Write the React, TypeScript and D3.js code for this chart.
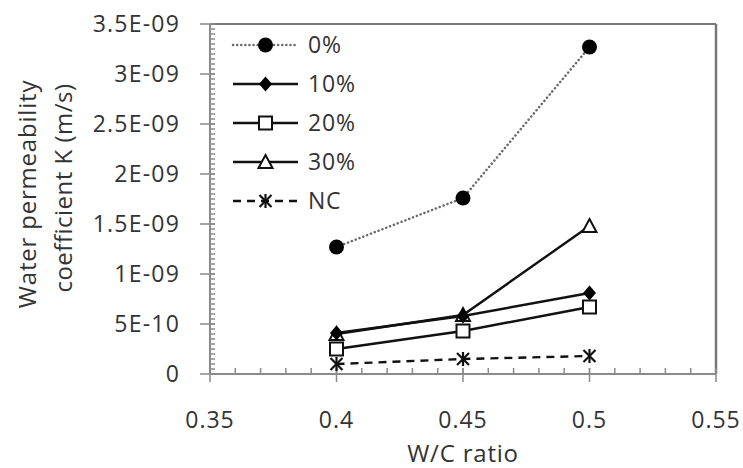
import React from "react";
import * as d3 from "d3";

const wcRatio = [0.4, 0.45, 0.5];
const k0 = [1.27e-9, 1.76e-9, 3.27e-9];
const k10 = [0.41e-9, 0.58e-9, 0.81e-9];
const k20 = [0.25e-9, 0.43e-9, 0.67e-9];
const k30 = [0.4e-9, 0.59e-9, 1.48e-9];
const kNC = [0.1e-9, 0.15e-9, 0.18e-9];

const seriesNames = ["0%", "10%", "20%", "30%", "NC"];
const xTicks = [0.35, 0.4, 0.45, 0.5, 0.55];
const xTickLabels = ["0.35", "0.4", "0.45", "0.5", "0.55"];
const yTicks = [0, 0.5e-9, 1e-9, 1.5e-9, 2e-9, 2.5e-9, 3e-9, 3.5e-9];
const yTickLabels = ["0", "5E-10", "1E-09", "1.5E-09", "2E-09", "2.5E-09", "3E-09", "3.5E-09"];

const W = 743, H = 468;
const L = 210, R = 716, T = 24, B = 374;
const FONT = "'Open Sans', sans-serif";
const TXT = "#333";
const AX = "#8a8a8a";

const x = d3.scaleLinear().domain([0.35, 0.55]).range([L, R]);
const y = d3.scaleLinear().domain([0, 3.5e-9]).range([B, T]);

type Kind = "circle" | "diamond" | "square" | "triangle" | "star";
const styles: { kind: Kind; dash: string; color: string; width: number; cap: string }[] = [
  { kind: "circle", dash: "0.1 4", color: "#6a6a6a", width: 2.5, cap: "round" },
  { kind: "diamond", dash: "", color: "#111", width: 2.4, cap: "butt" },
  { kind: "square", dash: "", color: "#111", width: 2.4, cap: "butt" },
  { kind: "triangle", dash: "", color: "#111", width: 2.4, cap: "butt" },
  { kind: "star", dash: "8 6", color: "#111", width: 2.4, cap: "butt" },
];
const drawOrder = [4, 3, 2, 1, 0];

function Marker({ kind, cx, cy }: { kind: Kind; cx: number; cy: number }) {
  if (kind === "circle") return <circle cx={cx} cy={cy} r={7.5} fill="#000" />;
  if (kind === "diamond")
    return <path d={`M${cx},${cy - 7.5}L${cx + 6.5},${cy}L${cx},${cy + 7.5}L${cx - 6.5},${cy}Z`} fill="#000" />;
  if (kind === "square")
    return <rect x={cx - 6.5} y={cy - 6.5} width={13} height={13} fill="#fff" stroke="#111" strokeWidth={2} />;
  if (kind === "triangle")
    return <path d={`M${cx},${cy - 7}L${cx + 7},${cy + 6}L${cx - 7},${cy + 6}Z`} fill="#fff" stroke="#111" strokeWidth={2} />;
  return (
    <g stroke="#111" strokeWidth={2.2}>
      <line x1={cx - 6} y1={cy - 6} x2={cx + 6} y2={cy + 6} />
      <line x1={cx - 6} y1={cy + 6} x2={cx + 6} y2={cy - 6} />
      <line x1={cx} y1={cy - 7} x2={cx} y2={cy + 7} />
    </g>
  );
}

export default function App() {
  const data = [k0, k10, k20, k30, kNC];
  const line = d3
    .line<number>()
    .x((_, i) => x(wcRatio[i]))
    .y((d) => y(d));
  const yMinor = d3.range(0, 3.5e-9 + 1e-13, 0.05e-9);
  const xMinor = d3.range(0.35, 0.5501, 0.01);

  const legX0 = 233, legX1 = 298, legY0 = 45, legDy = 39;

  return (
    <svg width={W} height={H} style={{ position: "absolute", left: 0, top: 0, background: "#fff" }}>
      <line x1={L} y1={T} x2={R} y2={T} stroke="#777" strokeWidth={2} />
      <line x1={R} y1={T} x2={R} y2={B} stroke="#777" strokeWidth={2.5} />
      <line x1={L} y1={T} x2={L} y2={B} stroke={AX} strokeWidth={2} />
      {yMinor.map((v, i) => (
        <line key={"ym" + i} x1={L} x2={L + 5} y1={y(v)} y2={y(v)} stroke={AX} strokeWidth={1.5} />
      ))}
      {yTicks.map((v, i) => (
        <g key={"yt" + i}>
          <line x1={L - 10} x2={L + 5} y1={y(v)} y2={y(v)} stroke={AX} strokeWidth={1.5} />
          <text x={180} y={y(v)} dy="0.35em" textAnchor="end" fontFamily={FONT} fontSize={23} letterSpacing={1.2} fill={TXT}>
            {yTickLabels[i]}
          </text>
        </g>
      ))}
      <line x1={L} y1={B} x2={R} y2={B} stroke={AX} strokeWidth={2} />
      {xMinor.map((v, i) => (
        <line key={"xm" + i} x1={x(v)} x2={x(v)} y1={B} y2={B - 6} stroke={AX} strokeWidth={1.5} />
      ))}
      {xTicks.map((v, i) => (
        <g key={"xt" + i}>
          <line x1={x(v)} x2={x(v)} y1={B - 6} y2={B + 8} stroke={AX} strokeWidth={1.5} />
          <text x={x(v)} y={428} textAnchor="middle" fontFamily={FONT} fontSize={23} letterSpacing={1} fill={TXT}>
            {xTickLabels[i]}
          </text>
        </g>
      ))}
      <text x={(L + R) / 2} y={462} textAnchor="middle" fontFamily={FONT} fontSize={24} letterSpacing={0.8} fill={TXT}>
        W/C ratio
      </text>
      <text transform="translate(36,194) rotate(-90)" textAnchor="middle" fontFamily={FONT} fontSize={24} letterSpacing={0.8} fill={TXT}>
        Water permeability
      </text>
      <text transform="translate(72,188) rotate(-90)" textAnchor="middle" fontFamily={FONT} fontSize={24} letterSpacing={0.5} fill={TXT}>
        coefficient K (m/s)
      </text>
      {drawOrder.map((si) => {
        const s = data[si];
        return (
          <g key={"s" + si}>
            <path
              d={line(s) || ""}
              fill="none"
              stroke={styles[si].color}
              strokeWidth={styles[si].width}
              strokeDasharray={styles[si].dash}
              strokeLinecap={styles[si].cap as any}
            />
            {s.map((v, i) => (
              <Marker key={i} kind={styles[si].kind} cx={x(wcRatio[i])} cy={y(v)} />
            ))}
          </g>
        );
      })}
      {seriesNames.map((n, i) => {
        const ly = legY0 + i * legDy;
        return (
          <g key={"lg" + i}>
            <line
              x1={legX0}
              x2={legX1}
              y1={ly}
              y2={ly}
              stroke={styles[i].color}
              strokeWidth={styles[i].width}
              strokeDasharray={styles[i].dash}
              strokeLinecap={styles[i].cap as any}
            />
            <Marker kind={styles[i].kind} cx={(legX0 + legX1) / 2} cy={ly} />
            <text x={308} y={ly} dy="0.35em" fontFamily={FONT} fontSize={23} letterSpacing={0.8} fill={TXT}>
              {n}
            </text>
          </g>
        );
      })}
    </svg>
  );
}
